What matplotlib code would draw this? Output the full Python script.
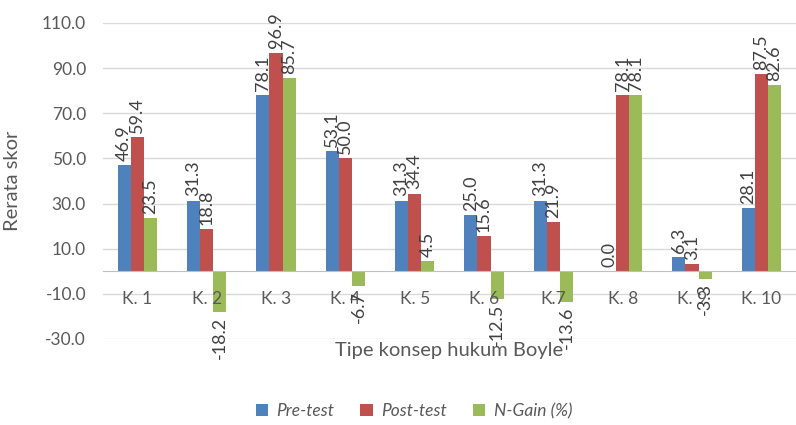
import matplotlib.pyplot as plt
import numpy as np

plt.rcParams['font.family'] = ['Lato', 'DejaVu Sans']

# data
kategori = ['K. 1', 'K. 2', 'K. 3', 'K. 4', 'K. 5', 'K. 6', 'K.7', 'K. 8', 'K. 9', 'K. 10']
pre_test = [46.9, 31.3, 78.1, 53.1, 31.3, 25.0, 31.3, 0.0, 6.3, 28.1]
post_test = [59.4, 18.8, 96.9, 50.0, 34.4, 15.6, 21.9, 78.1, 3.1, 87.5]
n_gain = [23.5, -18.2, 85.7, -6.7, 4.5, -12.5, -13.6, 78.1, -3.3, 82.6]
y_ticks = [-30, -10, 10, 30, 50, 70, 90, 110]


def main():
  fig = plt.figure(figsize=(7.96, 4.25), dpi=100)
  ax = fig.add_axes([0.129, 0.2024, 0.871, 0.7435])

  x = np.arange(len(kategori))
  w = 0.19
  series = [(pre_test, '#4F81BD', 'Pre-test'),
            (post_test, '#C0504D', 'Post-test'),
            (n_gain, '#9BBB59', 'N-Gain (%)')]

  # garis grid di belakang batang, label sumbu di depan
  for v in y_ticks:
    ax.axhline(v, color='#D9D9D9', lw=1, zorder=0)

  for i, (vals, col, nama) in enumerate(series):
    bars = ax.bar(x + (i - 1) * w, vals, w, color=col, label=nama, zorder=1)
    ax.bar_label(bars, fmt='%.1f', rotation=90, padding=3, fontsize=13, color='#404040')

  ax.set_xlim(-0.5, len(kategori) - 0.5)
  ax.set_ylim(-30, 110)
  ax.set_yticks(y_ticks)
  ax.set_yticklabels(['{:.1f}'.format(v) for v in y_ticks])
  ax.set_axisbelow(False)

  for s in ['top', 'right', 'left']:
    ax.spines[s].set_visible(False)
  ax.spines['bottom'].set_position(('data', 0))
  ax.spines['bottom'].set_color('#BFBFBF')

  ax.set_xticks(x)
  ax.set_xticklabels(kategori)
  ax.tick_params(axis='x', length=0, pad=14, labelsize=12.5, labelcolor='#595959')
  ax.tick_params(axis='y', length=0, pad=12, labelsize=12.5, labelcolor='#595959')

  ax.set_ylabel('Rerata skor', fontsize=14.5, color='#595959')
  ax.yaxis.set_label_coords(-0.118, 0.5)
  ax.set_xlabel('Tipe konsep hukum Boyle', fontsize=14.5, color='#595959')
  ax.xaxis.set_label_coords(0.5, -0.01)
  ax.xaxis.label.set_va('top')

  leg = fig.legend(loc='center', bbox_to_anchor=(0.52, 0.033), ncol=3, frameon=False,
                   handlelength=0.7, handleheight=0.7, columnspacing=1.5, handletextpad=0.5,
                   prop={'style': 'italic', 'size': 12.5})
  for t in leg.get_texts():
    t.set_color('#595959')

  fig.savefig('out.png', dpi=100)


if __name__ == "__main__":
  main()
